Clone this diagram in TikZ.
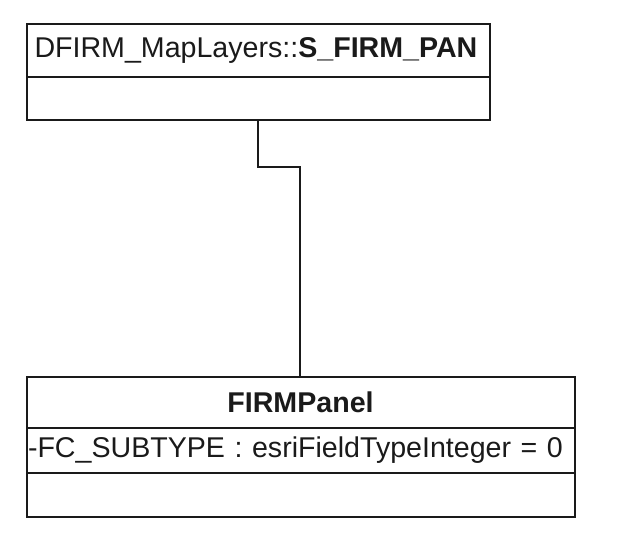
\documentclass[tikz,border=0pt]{standalone}
\usepackage{fontspec}
\setmainfont{Liberation Sans}
\usetikzlibrary{calc}
\definecolor{Ink}{HTML}{1A1A1A}

\tikzset{
  part/.style={draw=Ink, line width=2pt, rectangle, inner sep=0pt, outer sep=0pt,
    font=\fontsize{28.6}{30}\selectfont, text=Ink},
  link/.style={draw=Ink, line width=2pt}
}

\begin{document}
\begin{tikzpicture}[x=1pt, y=-1pt]
  \useasboundingbox (0,0) rectangle (625,533);
  % layer class
  \node[part, minimum width=463pt, minimum height=53pt, anchor=north west,
        text width=447pt, align=left] (panTitle) at (26.5,24) {DFIRM\_MapLayers::\textbf{S\_FIRM\_PAN}};
  \node[part, minimum width=463pt, minimum height=43pt, anchor=north] (panBody) at (panTitle.south) {};
  % panel class
  \node[part, minimum width=548pt, minimum height=51pt, anchor=north west] (panelTitle) at (26.5,377) {\textbf{FIRMPanel}};
  \node[part, minimum width=548pt, minimum height=45pt, anchor=north, text width=545pt, align=left] (panelAttr) at (panelTitle.south) {-FC\_SUBTYPE : esriFieldTypeInteger = 0};
  \node[part, minimum width=548pt, minimum height=44pt, anchor=north] (panelOps) at (panelAttr.south) {};
  % connector
  \coordinate (bendA) at (258,167);
  \draw[link] (panBody.south -| bendA) -- (bendA) -- (bendA -| 300,0) -- (panelTitle.north -| 300,0);
\end{tikzpicture}
\end{document}
